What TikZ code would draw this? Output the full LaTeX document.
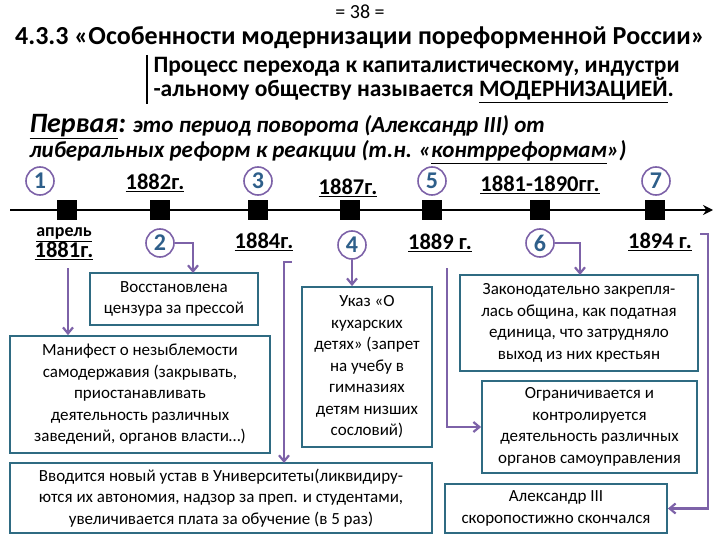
\documentclass[tikz,border=0pt]{standalone}
\usepackage{fontspec}
\setmainfont{Carlito}
\usetikzlibrary{arrows.meta}
\definecolor{bx}{HTML}{2F6B82}
\definecolor{pu}{HTML}{7D62A8}
\definecolor{nb}{HTML}{2E5F8A}
\begin{document}
\begin{tikzpicture}[x=1pt,y=-1pt,
 box/.style={draw=bx,line width=1.8pt,align=center,font=\fontsize{17}{21.5}\selectfont,inner sep=1pt},
 num/.style={circle,draw=pu,line width=1.6pt,text=nb,font=\fontsize{24}{24}\selectfont\bfseries,minimum size=28pt,inner sep=0pt},
 yr/.style={font=\fontsize{22.5}{22}\selectfont\bfseries},
 sq/.style={fill=black,minimum size=20pt,inner sep=0pt},
 con/.style={draw=pu,line width=2.2pt,-{Straight Barb[length=6pt,width=10pt]}}]
\useasboundingbox (0,0) rectangle (720,540);
\node (p) at (360,12) {\fontsize{20}{20}\selectfont = 38 =};
\node (t) at (360,38) {\fontsize{26}{26}\selectfont\bfseries 4.3.3 «Особенности модернизации пореформенной России»};
\draw[line width=1.4pt] (147,55) -- (147,104);
\node[anchor=west,align=left,font=\fontsize{23.5}{22}\selectfont\bfseries] (m) at (150,80) {Процесс перехода к капиталистическому, индустри\\-альному обществу называется \underline{МОДЕРНИЗАЦИЕЙ}.};
\node[anchor=west,font=\fontsize{23}{23}\selectfont\bfseries\itshape] (f1) at (26,127) {{\fontsize{28}{28}\selectfont\underline{Первая}:} это период поворота (Александр III) от};
\node[anchor=west,font=\fontsize{23}{23}\selectfont\bfseries\itshape] (f2) at (26,152) {либеральных реформ к реакции (т.н. «\underline{контрреформам}»)};
\draw[line width=2.4pt,-{Stealth[length=10pt,width=10pt]}] (10,210) coordinate (ls) -- (713,210) coordinate (le);
\foreach \n/\x in {a/67,b/160,c/258,d/350,e/432,f/540,g/655}{\node[sq] (s\n) at (\x,210) {};}
\node[num] (n1) at (40,181) {1};
\node[num] (n3) at (258,181) {3};
\node[num] (n5) at (432,181) {5};
\node[num] (n7) at (656,181) {7};
\node[num] (n2) at (160,243) {2};
\node[num] (n4) at (352,245) {4};
\node[num] (n6) at (540,243) {6};
\node[yr] (y1) at (155,183) {\underline{1882г.}};
\node[yr] (y2) at (348,188) {\underline{1887г.}};
\node[yr] (y3) at (540,185) {\underline{1881-1890гг.}};
\node[yr,align=center] (y4) at (64,244) {{\fontsize{18}{18}\selectfont\underline{апрель}}\\[-1pt]\underline{1881г.}};
\node[yr] (y5) at (264,242) {\underline{1884г.}};
\node[yr] (y6) at (440,243) {\underline{1889 г.}};
\node[yr] (y7) at (660,242) {\underline{1894 г.}};
\node[box,minimum width=168pt,minimum height=52pt] (b1) at (174,299) {Восстановлена\\цензура за прессой};
\node[box,minimum width=260pt,minimum height=117pt] (b2) at (140,394.5) {Манифест о незыблемости\\самодержавия (закрывать,\\приостанавливать\\деятельность различных\\заведений, органов власти…)};
\node[box,minimum width=130pt,minimum height=160pt] (b3) at (367,367) {Указ «О\\кухарских\\детях» (запрет\\на учебу в\\гимназиях\\детям низших\\сословий)};
\node[box,minimum width=422pt,minimum height=70pt] (b4) at (221,498) {Вводится новый устав в  Университеты(ликвидиру-\\ются их автономия, надзор за преп. и студентами,\\увеличивается плата за обучение (в 5 раз)};
\node[box,minimum width=238pt,minimum height=96pt] (b5) at (579,323) {Законодательно закрепля-\\лась община, как податная\\единица, что затрудняло\\выход из них крестьян};
\node[box,minimum width=215pt,minimum height=92pt] (b6) at (589.5,427) {Ограничивается и\\контролируется\\деятельность различных\\органов самоуправления};
\node[box,minimum width=222pt,minimum height=49pt] (b7) at (556,508.5) {Александр III\\скоропостижно скончался};
\draw[con] (68,268) -- (b2.north -| 68,0);
\draw[con] (n2.east) -| (193,273);
\draw[con] (292,262) -- (284,262) -- (284,463);
\draw[con] (n4.south) -- (b3.north -| n4);
\draw[con] (447,268) |- (b6.west);
\draw[con] (n6.east) -| (580,275);
\draw[con] (700,234) -- (708,234) |- (b7.east);
\end{tikzpicture}
\end{document}
